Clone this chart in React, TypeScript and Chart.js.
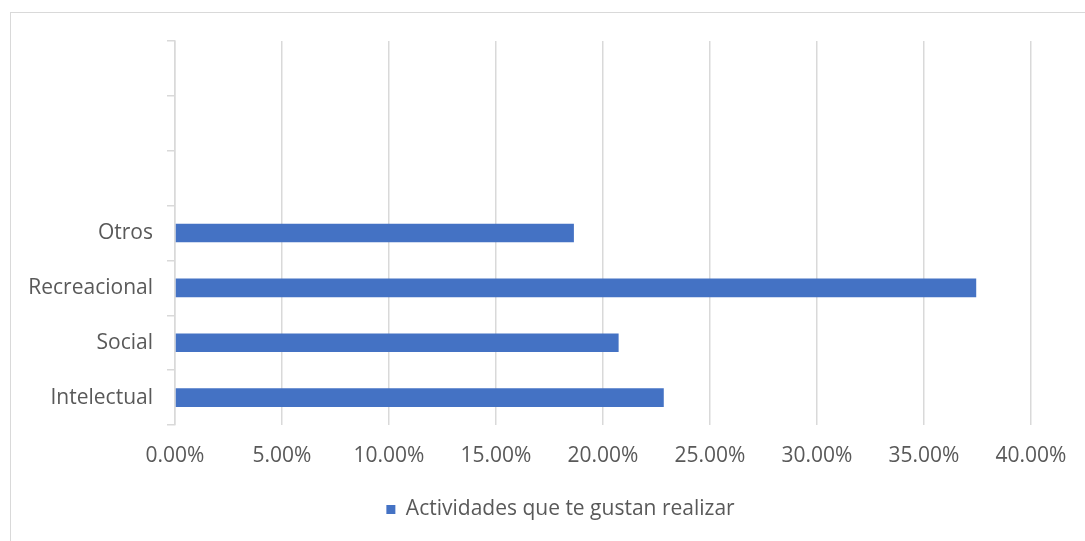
import React, { useEffect, useRef } from "react";
import { Chart, registerables } from "chart.js";

Chart.register(...registerables);

const categories: string[] = ["", "", "", "Otros", "Recreacional", "Social", "Intelectual"];
const seriesName = "Actividades que te gustan realizar";
const values: (number | null)[] = [null, null, null, 18.64, 37.44, 20.73, 22.84];
const xTicks: number[] = [0, 5, 10, 15, 20, 25, 30, 35, 40];

const FONT = "'Open Sans', 'Noto Sans', sans-serif";
const TEXT = "#595959";
const GRID = "#d9d9d9";
const BAR = "#4472C4";

const legendShift = {
  id: "legendShift",
  afterLayout(chart: any) {
    if (chart.legend) {
      chart.legend.left += 45;
      chart.legend.right += 45;
    }
  },
};

export default function App() {
  const ref = useRef<HTMLCanvasElement | null>(null);

  useEffect(() => {
    document.body.style.margin = "0";
    document.body.style.overflow = "hidden";
    if (!ref.current) return;
    const chart = new Chart(ref.current, {
      type: "bar",
      data: {
        labels: categories,
        datasets: [
          {
            label: seriesName,
            data: values,
            backgroundColor: BAR,
            borderWidth: 0,
            barPercentage: 0.34,
            categoryPercentage: 1,
          },
        ],
      },
      options: {
        indexAxis: "y",
        responsive: false,
        animation: false,
        layout: { padding: { top: 41, right: 54, left: 0, bottom: 11 } },
        plugins: {
          tooltip: { enabled: false },
          legend: {
            position: "bottom",
            labels: {
              boxWidth: 9,
              boxHeight: 9,
              color: TEXT,
              font: { family: FONT, size: 21 },
              padding: 10,
            },
          },
        },
        scales: {
          x: {
            type: "linear",
            min: 0,
            max: 40,
            afterBuildTicks: (scale: any) => {
              scale.ticks = xTicks.map((v) => ({ value: v }));
            },
            afterFit: (scale: any) => {
              scale.height = 64;
            },
            border: { display: false },
            grid: { color: GRID, lineWidth: 1.5, drawTicks: false },
            ticks: {
              color: TEXT,
              font: { family: FONT, size: 21 },
              padding: 18,
              callback: (v: any) => Number(v).toFixed(2) + "%",
            },
          },
          y: {
            type: "category",
            afterFit: (scale: any) => {
              scale.width = 175;
            },
            border: { display: true, color: GRID, width: 1.5 },
            grid: {
              offset: true,
              drawOnChartArea: false,
              color: GRID,
              lineWidth: 1.5,
              tickLength: 8,
            },
            ticks: {
              color: TEXT,
              font: { family: FONT, size: 21 },
              padding: 14,
            },
          },
        },
      },
      plugins: [legendShift],
    });
    return () => chart.destroy();
  }, []);

  return (
    <div style={{ position: "fixed", left: 0, top: 0, width: 1085, height: 541, overflow: "hidden", background: "#fff" }}>
      <div
        style={{
          position: "absolute",
          left: 10,
          top: 12,
          width: 1200,
          height: 700,
          border: "1.5px solid #d9d9d9",
          boxSizing: "border-box",
        }}
      />
      <canvas ref={ref} width={1085} height={541} style={{ position: "absolute", left: 0, top: 0 }} />
    </div>
  );
}
